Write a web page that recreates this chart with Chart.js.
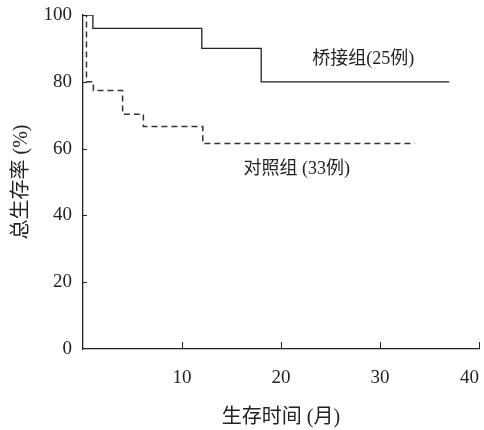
<!DOCTYPE html>
<html>
<head>
<meta charset="utf-8">
<script src="https://cdn.jsdelivr.net/npm/chart.js@4/dist/chart.umd.min.js"></script>
<style>
  body { margin: 0; background: #fff; }
  #km { display: block; }
</style>
</head>
<body>
<canvas id="km" width="484" height="430"></canvas>
<script>
// 生存曲线数据
const bridgeTimes = [0, 1, 12, 18, 37];
const bridgeSurv = [100, 96, 90, 80, 80];
const controlTimes = [0, 0.35, 1.05, 4.0, 6.1, 12.1, 33.5];
const controlSurv = [100, 80, 77.4, 70.3, 66.6, 61.5, 61.5];
const seriesNames = ["桥接组(25例)", "对照组 (33例)"];
const xTicks = [0, 10, 20, 30, 40];
const yTicks = [0, 20, 40, 60, 80, 100];

const fontFam = "'Liberation Serif', 'Times New Roman', 'Noto Sans CJK SC', serif";
const ink = "#222";

function toPoints(xs, ys){
    return xs.map(function(x, i){ return { x: x, y: ys[i] }; });
}

// 向内的刻度线 + 曲线旁的组名
const decor = {
    id: "decor",
    afterDraw: function(chart){
        const ctx = chart.ctx;
        const xs = chart.scales.x, ys = chart.scales.y;
        const area = chart.chartArea;
        ctx.save();
        ctx.strokeStyle = ink;
        ctx.lineWidth = 1;
        xTicks.forEach(function(v){
            if(v === 0) return;
            const px = Math.round(xs.getPixelForValue(v)) + 0.5;
            ctx.beginPath();
            ctx.moveTo(px, area.bottom);
            ctx.lineTo(px, area.bottom - 7);
            ctx.stroke();
        });
        yTicks.forEach(function(v){
            if(v === 0) return;
            const py = Math.round(ys.getPixelForValue(v)) + 0.5;
            ctx.beginPath();
            ctx.moveTo(area.left, py);
            ctx.lineTo(area.left + 4, py);
            ctx.stroke();
        });
        ctx.fillStyle = ink;
        ctx.font = "18px " + fontFam;
        ctx.textAlign = "center";
        ctx.textBaseline = "middle";
        chart.data.datasets.forEach(function(ds){
            ctx.fillText(ds.label, xs.getPixelForValue(ds.labelAt.x), ys.getPixelForValue(ds.labelAt.y));
        });
        ctx.restore();
    }
};

new Chart(document.getElementById("km"), {
    type: "line",
    data: {
        datasets: [{
            label: seriesNames[0],
            data: toPoints(bridgeTimes, bridgeSurv),
            stepped: "before",
            borderColor: ink,
            borderWidth: 1.3,
            pointRadius: 0,
            fill: false,
            labelAt: { x: 28.3, y: 86.8 }
        }, {
            label: seriesNames[1],
            data: toPoints(controlTimes, controlSurv),
            stepped: "before",
            borderColor: "#333",
            borderWidth: 1.5,
            borderDash: [6, 4],
            pointRadius: 0,
            fill: false,
            labelAt: { x: 21.6, y: 53.9 }
        }]
    },
    options: {
        responsive: false,
        animation: false,
        layout: { padding: { top: 15, right: 5, left: 0, bottom: 0 } },
        plugins: {
            legend: { display: false },
            tooltip: { enabled: false }
        },
        scales: {
            x: {
                type: "linear",
                min: 0,
                max: 40,
                afterBuildTicks: function(s){ s.ticks = xTicks.map(function(v){ return { value: v }; }); },
                afterFit: function(s){ s.height = 81; s.paddingLeft = 0; s.paddingRight = 0; },
                grid: { display: false, drawTicks: false },
                border: { color: ink, width: 1.3 },
                ticks: {
                    padding: 18,
                    align: "inner",
                    maxRotation: 0,
                    color: ink,
                    font: { family: fontFam, size: 19 },
                    callback: function(v){ return v === 0 ? "" : v; }
                },
                title: {
                    display: true,
                    text: "生存时间 (月)",
                    color: ink,
                    font: { family: fontFam, size: 20 },
                    padding: { top: 0, bottom: 0 }
                }
            },
            y: {
                min: 0,
                max: 100,
                afterBuildTicks: function(s){ s.ticks = yTicks.map(function(v){ return { value: v }; }); },
                afterFit: function(s){ s.width = 83; s.paddingTop = 0; s.paddingBottom = 0; },
                grid: { display: false, drawTicks: false },
                border: { color: ink, width: 1.3 },
                ticks: {
                    padding: 11,
                    color: ink,
                    font: { family: fontFam, size: 19 }
                },
                title: {
                    display: true,
                    text: "总生存率 (%)",
                    color: ink,
                    font: { family: fontFam, size: 20 },
                    padding: { top: 10, bottom: 0 }
                }
            }
        }
    },
    plugins: [decor]
});
</script>
</body>
</html>
